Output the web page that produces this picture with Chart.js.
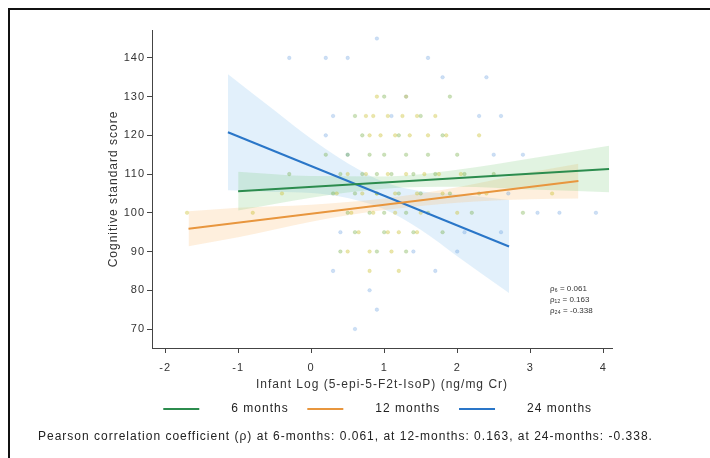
<!DOCTYPE html>
<html>
<head>
<meta charset="utf-8">
<script src="https://cdn.jsdelivr.net/npm/chart.js@4"></script>
<style>
  html, body { margin: 0; padding: 0; background: #fff; }
  #wrap { width: 710px; height: 458px; }
</style>
</head>
<body>
<div id="wrap"><canvas id="chart" width="710" height="458"></canvas></div>
<script>
'use strict';

// series labels and correlation values
var months = ['6 months', '12 months', '24 months'];
var rho = ['0.061', '0.163', '-0.338'];

// axis ticks
var xTicks = [-2, -1, 0, 1, 2, 3, 4];
var yTicks = [70, 80, 90, 100, 110, 120, 130, 140];

// fitted lines (ends)
var fitX6 = [-1.0, 4.08];
var fitY6 = [105.6, 111.3];
var fitX12 = [-1.68, 3.66];
var fitY12 = [95.9, 108.2];
var fitX24 = [-1.14, 2.71];
var fitY24 = [120.8, 91.3];

// confidence bands
var bandX6 = [-1.0, 0, 1, 2, 3, 4.08];
var bandLo6 = [100.6, 103.9, 106.2, 106.7, 106.0, 105.3];
var bandHi6 = [110.6, 109.5, 109.4, 111.1, 114.0, 117.3];
var bandX12 = [-1.68, -1, 0, 1, 2, 3, 3.66];
var bandLo12 = [91.4, 93.7, 97.7, 100.7, 102.6, 103.5, 103.7];
var bandHi12 = [100.4, 101.3, 102.1, 103.7, 106.6, 110.5, 112.7];
var bandX24 = [-1.14, -0.5, 0, 0.5, 1, 1.5, 2, 2.71];
var bandLo24 = [105.8, 105.4, 105.1, 103.8, 100.9, 95.6, 88.8, 79.3];
var bandHi24 = [135.8, 126.4, 119.1, 112.8, 107.9, 105.6, 104.8, 103.3];

// observations (x = log isoprostane, y = score)
var obsX6 = [0.2, 0.5, 0.8, 1.0, 1.3, 1.6, 2.0, 0.4, 0.7, 0.9, 1.1, 1.4, 1.7, 2.1, 2.5,
             0.3, 0.6, 0.9, 1.2, 1.5, 1.9, 2.3, 0.5, 0.8, 1.0, 1.3, 1.6, 2.2, 2.9,
             0.6, 1.0, 1.4, 1.8, 0.4, 0.9, 1.3, 0.7, 1.2, 1.8, 0.6, 1.5, 1.0, 1.9, -0.3];
var obsY6 = [115, 115, 115, 115, 115, 115, 115, 110, 110, 110, 110, 110, 110, 110, 110,
             105, 105, 105, 105, 105, 105, 105, 100, 100, 100, 100, 100, 100, 100,
             95, 95, 95, 95, 90, 90, 90, 120, 120, 120, 125, 125, 130, 130, 110];
var obsX12 = [0.75, 0.85, 1.05, 1.25, 1.45, 1.7, 0.8, 0.95, 1.15, 1.35, 1.6, 1.85, 2.3,
              0.5, 0.75, 1.05, 1.3, 1.55, 1.75, 2.05, 0.35, 0.7, 0.9, 1.15, 1.45, 1.8, 2.4,
              0.55, 0.85, 1.15, 1.5, 2.0, 0.65, 1.05, 1.2, 1.45, 0.5, 0.8, 1.1,
              0.9, 1.3, 0.8, 1.2, -0.8, -0.4, -1.7, 3.3];
var obsY12 = [125, 125, 125, 125, 125, 125, 120, 120, 120, 120, 120, 120, 120,
              110, 110, 110, 110, 110, 110, 110, 105, 105, 105, 105, 105, 105, 105,
              100, 100, 100, 100, 100, 95, 95, 95, 95, 90, 90, 90,
              130, 130, 85, 85, 100, 105, 100, 105];
var obsX24 = [-0.3, 0.2, 0.5, 0.9, 1.6, 1.8, 2.4, 0.3, 2.3, 2.6, 0.2, 2.5, 2.9, 3.1, 3.4, 3.9,
              2.6, 0.8, 0.9, 0.6, 1.3, 1.1, 2.1, 0.4, 1.4, 2.0, 2.7, 0.3, 1.7, 0.5];
var obsY24 = [140, 140, 140, 145, 140, 135, 135, 125, 125, 125, 120, 115, 115, 100, 100, 100,
              95, 80, 75, 70, 130, 125, 95, 95, 90, 90, 105, 85, 85, 115];

function pts(xs, ys) {
  return xs.map(function(x, i) { return {x: x, y: ys[i]}; });
}

var lineColor = ['rgb(44, 140, 78)', 'rgb(232, 150, 62)', 'rgb(42, 118, 200)'];
var bandColor = ['rgba(120, 200, 120, 0.22)', 'rgba(250, 190, 120, 0.25)', 'rgba(150, 200, 240, 0.28)'];
var dotColor = ['rgba(110, 170, 60, 0.35)', 'rgba(200, 190, 40, 0.38)', 'rgba(90, 150, 220, 0.30)'];

var fits = [[fitX6, fitY6], [fitX12, fitY12], [fitX24, fitY24]];
var bands = [[bandX6, bandLo6, bandHi6], [bandX12, bandLo12, bandHi12], [bandX24, bandLo24, bandHi24]];
var obs = [[obsX6, obsY6], [obsX12, obsY12], [obsX24, obsY24]];

var datasets = [];
for (var i = 0; i < 3; i++) {
  datasets.push({
    label: months[i],
    data: pts(fits[i][0], fits[i][1]),
    borderColor: lineColor[i],
    backgroundColor: lineColor[i],
    borderWidth: 2,
    pointRadius: 0,
    fill: false,
    order: 1
  });
}
for (var i = 0; i < 3; i++) {
  datasets.push({
    label: 'obs ' + months[i],
    data: pts(obs[i][0], obs[i][1]),
    showLine: false,
    pointRadius: 1.8,
    pointBackgroundColor: dotColor[i],
    pointBorderColor: dotColor[i],
    pointBorderWidth: 0.5,
    order: 2
  });
}
for (var i = 0; i < 3; i++) {
  datasets.push({
    label: 'hi ' + months[i],
    data: pts(bands[i][0], bands[i][2]),
    borderWidth: 0,
    pointRadius: 0,
    cubicInterpolationMode: 'monotone',
    backgroundColor: bandColor[i],
    fill: '+1',
    order: 3
  });
  datasets.push({
    label: 'lo ' + months[i],
    data: pts(bands[i][0], bands[i][1]),
    borderWidth: 0,
    pointRadius: 0,
    cubicInterpolationMode: 'monotone',
    fill: false,
    order: 3
  });
}

var textFont = '"Liberation Sans", Arial, sans-serif';
var spacing = '1px';

// wider letter spacing, like the original export
var spaced = {
  id: 'spaced',
  beforeLayout: function(chart) { chart.ctx.letterSpacing = spacing; },
  beforeDraw: function(chart) { chart.ctx.letterSpacing = spacing; }
};

var extras = {
  id: 'extras',
  afterDraw: function(chart) {
    var ctx = chart.ctx;
    var x = chart.scales.x, y = chart.scales.y;
    ctx.save();
    // outer frame (cropped at right and bottom)
    ctx.strokeStyle = '#111';
    ctx.lineWidth = 2;
    ctx.strokeRect(9, 9, 900, 900);
    // correlation note inside the plot
    ctx.fillStyle = '#333';
    ctx.letterSpacing = '0px';
    ctx.font = '8px ' + textFont;
    ctx.textBaseline = 'middle';
    var subs = ['\u2086', '\u2081\u2082', '\u2082\u2084'];
    var noteY = [80.5, 77.5, 74.7];
    for (var i = 0; i < 3; i++) {
      ctx.fillText('\u03c1' + subs[i] + ' = ' + rho[i], x.getPixelForValue(3.27), y.getPixelForValue(noteY[i]));
    }
    // footer
    ctx.letterSpacing = spacing;
    ctx.font = '12px ' + textFont;
    ctx.fillStyle = '#222';
    ctx.fillText('Pearson correlation coefficient (\u03c1) at 6-months: ' + rho[0] +
      ', at 12-months: ' + rho[1] + ', at 24-months: ' + rho[2] + '.', 38, 437);
    ctx.restore();
  }
};

var gap = '\u00a0\u00a0\u00a0\u00a0\u00a0\u00a0';

new Chart(document.getElementById('chart'), {
  type: 'line',
  data: { datasets: datasets },
  plugins: [spaced, extras],
  options: {
    responsive: false,
    animation: false,
    layout: { padding: { left: 100, right: 98, top: 30, bottom: 33 } },
    plugins: {
      tooltip: { enabled: false },
      legend: {
        position: 'bottom',
        fullSize: false,
        labels: {
          generateLabels: function(chart) {
            var items = Chart.defaults.plugins.legend.labels.generateLabels(chart);
            return items.filter(function(item) { return months.indexOf(item.text) >= 0; })
              .map(function(item) { item.text = gap + item.text + '\u00a0\u00a0'; return item; });
          },
          usePointStyle: true,
          pointStyle: 'line',
          pointStyleWidth: 36,
          padding: 10,
          color: '#222',
          font: { family: textFont, size: 12 }
        }
      }
    },
    scales: {
      x: {
        type: 'linear',
        min: -2.18,
        max: 4.12,
        afterBuildTicks: function(s) { s.ticks = xTicks.map(function(v) { return {value: v}; }); },
        afterFit: function(s) { s.height = 45; },
        grid: { drawOnChartArea: false, drawTicks: true, tickLength: 5, color: '#444' },
        border: { display: true, color: '#444', width: 1 },
        ticks: { padding: 8, color: '#333', font: { family: textFont, size: 11 } },
        title: {
          display: true,
          text: 'Infant Log (5-epi-5-F2t-IsoP) (ng/mg Cr)',
          color: '#333',
          padding: { top: 1, bottom: 1 },
          font: { family: textFont, size: 12 }
        }
      },
      y: {
        min: 65.1,
        max: 147.2,
        afterBuildTicks: function(s) { s.ticks = yTicks.map(function(v) { return {value: v}; }); },
        afterFit: function(s) { s.width = 52; },
        grid: { drawOnChartArea: false, drawTicks: true, tickLength: 5, color: '#444' },
        border: { display: true, color: '#444', width: 1 },
        ticks: { padding: 2, color: '#333', font: { family: textFont, size: 11 } },
        title: {
          display: true,
          text: 'Cognitive standard score',
          color: '#333',
          padding: { top: 6, bottom: 0 },
          font: { family: textFont, size: 12 }
        }
      }
    }
  }
});
</script>
</body>
</html>
